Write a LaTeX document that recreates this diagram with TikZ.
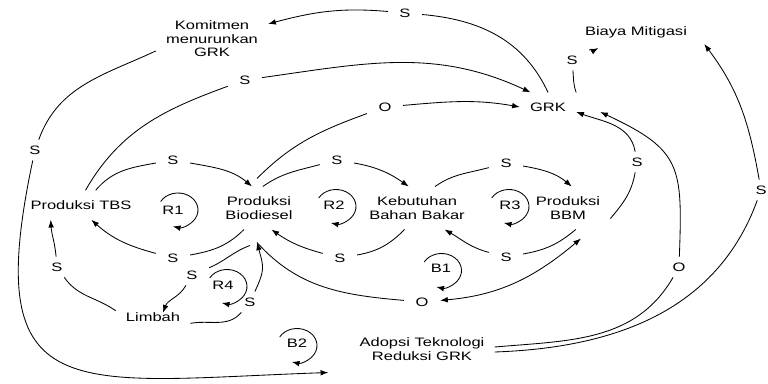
\documentclass[tikz,border=0pt]{standalone}
\usepackage{fontspec}
\setmainfont[FakeStretch=1.35]{Liberation Sans}
\usetikzlibrary{arrows.meta}

\begin{document}
\begin{tikzpicture}[x=0.025cm,y=0.025cm,
  every node/.style={font=\fontsize{8.7}{9.6}\selectfont},
  var/.style={align=center,inner xsep=7pt,inner ysep=7pt},
  pol/.style={inner xsep=8pt,inner ysep=4pt},
  >={Latex[length=5.5pt,width=4pt]},
  line width=0.6pt]

  \useasboundingbox (0,0) rectangle (768,383);
  \clip (0,0) rectangle (768,383);

  \draw (212,344) node[var] (kom) {Komitmen\\menurunkan\\GRK};
  \draw (636,351) node[var,inner xsep=12pt] (bm) {Biaya Mitigasi};
  \draw (548,276) node[var] (grk) {GRK};
  \draw (81,178) node[var] (tbs) {Produksi TBS};
  \draw (259,175) node[var] (bio) {Produksi\\Biodiesel};
  \draw (417,175) node[var] (keb) {Kebutuhan\\Bahan Bakar};
  \draw (568,175) node[var] (bbm) {Produksi\\BBM};
  \draw (153,66) node[var,inner ysep=1pt] (lim) {Limbah};
  \draw (422,34) node[var] (ado) {Adopsi Teknologi\\Reduksi GRK};

  % polarities
  \draw (405,370) node[pol] (p1) {S};
  \draw (35,233) node[pol] (p2) {S};
  \draw (245,303) node[pol] (p3) {S};
  \draw (173,223) node[pol] (p4) {S};
  \draw (385,276) node[pol] (p5) {O};
  \draw (337,223) node[pol] (p6) {S};
  \draw (506,220) node[pol] (p7) {S};
  \draw (637,221) node[pol] (p8) {S};
  \draw (572,323) node[pol] (p9) {S};
  \draw (761,193) node[pol] (p10) {S};
  \draw (679,116) node[pol] (p11) {O};
  \draw (506,126) node[pol] (p12) {S};
  \draw (340,125) node[pol] (p13) {S};
  \draw (173,125) node[pol] (p14) {S};
  \draw (422,81) node[pol] (p15) {O};
  \draw (192,108) node[pol] (p16) {S};
  \draw (250,81) node[pol] (p17) {S};
  \draw (57,116) node[pol] (p18) {S};

  % links
  \draw[->] (grk.north) to[out=115,in=-5] (p1) to[out=175,in=15] (kom.15);
  \draw[->] (kom.192) to[out=205,in=70] (p2)
    to[out=-102,in=182,looseness=1.8] ([shift={(-21,-2)}]ado.south west);
  \draw[->] (tbs.73) to[out=60,in=200] (p3) to[out=8,in=155] (grk.140);
  \draw[->] (tbs.45) to[out=50,in=190] (p4) to[out=-10,in=140] (bio.108);
  \draw[->] ([shift={(-2,8)}]bio.north) to[out=45,in=200] (p5) to[out=5,in=170] (grk.west);
  \draw[->] (bio.80) to[out=35,in=195] (p6) to[out=-10,in=145] (keb.111);
  \draw[->] (keb.50) to[out=35,in=195] (p7) to[out=-10,in=140] (bbm.80);
  \draw[->] (bbm.-14) to[out=50,in=260] (p8) to[out=100,in=-20] (grk.-10);
  \draw[->] (grk.north east) to[out=110,in=-85] (p9) to[out=30,in=210] (bm.203);
  \draw[->] ([shift={(0,-3)}]ado.east) to[out=2,in=250] (p10) to[out=100,in=307] (bm.-10);
  \draw[->] ([shift={(0,2)}]ado.east) to[out=5,in=240] (p11)
    to[out=88,in=-25,looseness=1.4] ([shift={(24,0)}]grk.-10);
  \draw[->] (bbm.-70) to[out=220,in=10] (p12) to[out=165,in=-30] (keb.-38);
  \draw[->] (keb.240) to[out=225,in=10] (p13) to[out=165,in=-35] (bio.-60);
  \draw[->] (bio.235) to[out=225,in=10] (p14) to[out=165,in=-42] (tbs.-55);
  \draw[<->] ([shift={(-2,-13)}]bio.south) to[out=-48,in=175] (p15)
    to[out=5,in=220] ([shift={(13,-9)}]bbm.south);
  \draw[->] ([shift={(-9,-16)}]bio.south) to[out=200,in=23] (p16)
    to[out=240,in=70] ([shift={(10,-2)}]lim.north);
  \draw[->] (lim.south east) to[out=10,in=230] (p17)
    to[out=65,in=-75,looseness=1.3] ([shift={(-2,-13)}]bio.south);
  \draw[->] (lim.north west) to[out=145,in=-55] (p18) to[out=95,in=-87] (tbs.206);

  % loops
  \draw (173,173) node (r1) {R1};
  \draw[->] (178,173) ++(150:20 and 17) arc[start angle=150,end angle=-105,x radius=20,y radius=17];
  \draw (334,178) node (r2) {R2};
  \draw[->] (336,176.5) ++(150:20 and 17) arc[start angle=150,end angle=-105,x radius=20,y radius=17];
  \draw (510,178) node (r3) {R3};
  \draw[->] (509,176.5) ++(150:20 and 17) arc[start angle=150,end angle=-105,x radius=20,y radius=17];
  \draw (223,98) node (r4) {R4};
  \draw[->] (227,96.5) ++(150:20 and 17) arc[start angle=150,end angle=-105,x radius=20,y radius=17];
  \draw (441,115) node (b1) {B1};
  \draw[->] (441.5,112.5) ++(150:20 and 17) arc[start angle=150,end angle=-105,x radius=20,y radius=17];
  \draw (297,40) node (b2) {B2};
  \draw[->] (297,37.5) ++(150:20 and 17) arc[start angle=150,end angle=-105,x radius=20,y radius=17];

\end{tikzpicture}
\end{document}
